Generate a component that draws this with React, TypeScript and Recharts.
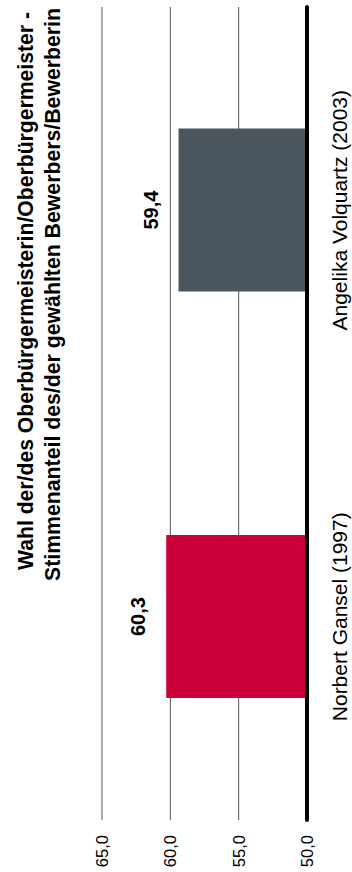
import React from "react";
import { BarChart, Bar, XAxis, YAxis, CartesianGrid, Cell, LabelList } from "recharts";

const categories = ["Norbert Gansel (1997)", "Angelika Volquartz (2003)"];
const values = [60.3, 59.4];
const colors = ["#CC003A", "#4B555E"];
const yTicks = [50, 55, 60, 65];
const titleLines = [
  "Wahl der/des Oberbürgermeisterin/Oberbürgermeister -",
  "Stimmenanteil des/der gewählten Bewerbers/Bewerberin",
];
const titleStarts = [302, 291];
const titleLengths = [558, 573];

const data = categories.map((name, i) => ({ name, value: values[i] }));
const fmt = (v: number) => v.toFixed(1).replace(".", ",");
const FONT = "'Liberation Sans', Arial, Helvetica, sans-serif";

export default function App() {
  return (
    <div style={{ position: "absolute", left: 0, top: 0, width: 352, height: 872, overflow: "hidden", background: "#fff" }}>
      <div
        style={{
          position: "absolute",
          left: 0,
          top: 0,
          width: 872,
          height: 352,
          transformOrigin: "0 0",
          transform: "translate(0px, 872px) rotate(-90deg)",
          fontFamily: FONT,
        }}
      >
        <svg width={872} height={80} style={{ position: "absolute", left: 0, top: 0, overflow: "visible" }}>
          {titleLines.map((t, i) => (
            <text
              key={i}
              x={titleStarts[i]}
              y={33 + i * 27}
              textLength={titleLengths[i]}
              lengthAdjust="spacingAndGlyphs"
              style={{ fontFamily: FONT, fontWeight: "bold", fontSize: 21.5, fill: "#000" }}
            >
              {t}
            </text>
          ))}
        </svg>
        <BarChart
          width={872}
          height={352}
          data={data}
          margin={{ top: 102, right: 7, bottom: 0, left: 0 }}
          barCategoryGap="30%"
          style={{ fontFamily: FONT }}
        >
          <CartesianGrid horizontal vertical={false} stroke="#555" strokeWidth={1} />
          <XAxis
            dataKey="name"
            height={45}
            tickLine={false}
            tickSize={6}
            tickMargin={19}
            axisLine={{ stroke: "#000", strokeWidth: 4, strokeLinecap: "round" } as any}
            tick={{ fill: "#000", fontSize: 21 }}
            interval={0}
          />
          <YAxis
            width={52}
            domain={[50, 65]}
            ticks={yTicks}
            tickFormatter={fmt}
            axisLine={false}
            tickLine={false}
            tickSize={6}
            tickMargin={9}
            tick={{ fill: "#000", fontSize: 16.5 }}
            allowDataOverflow
          />
          <Bar dataKey="value" isAnimationActive={false}>
            {data.map((d, i) => (
              <Cell key={d.name} fill={colors[i]} />
            ))}
            <LabelList
              dataKey="value"
              position="top"
              offset={21}
              formatter={(v: any) => fmt(Number(v))}
              style={{ fontWeight: "bold", fontSize: 20, fill: "#000" }}
            />
          </Bar>
        </BarChart>
      </div>
    </div>
  );
}
